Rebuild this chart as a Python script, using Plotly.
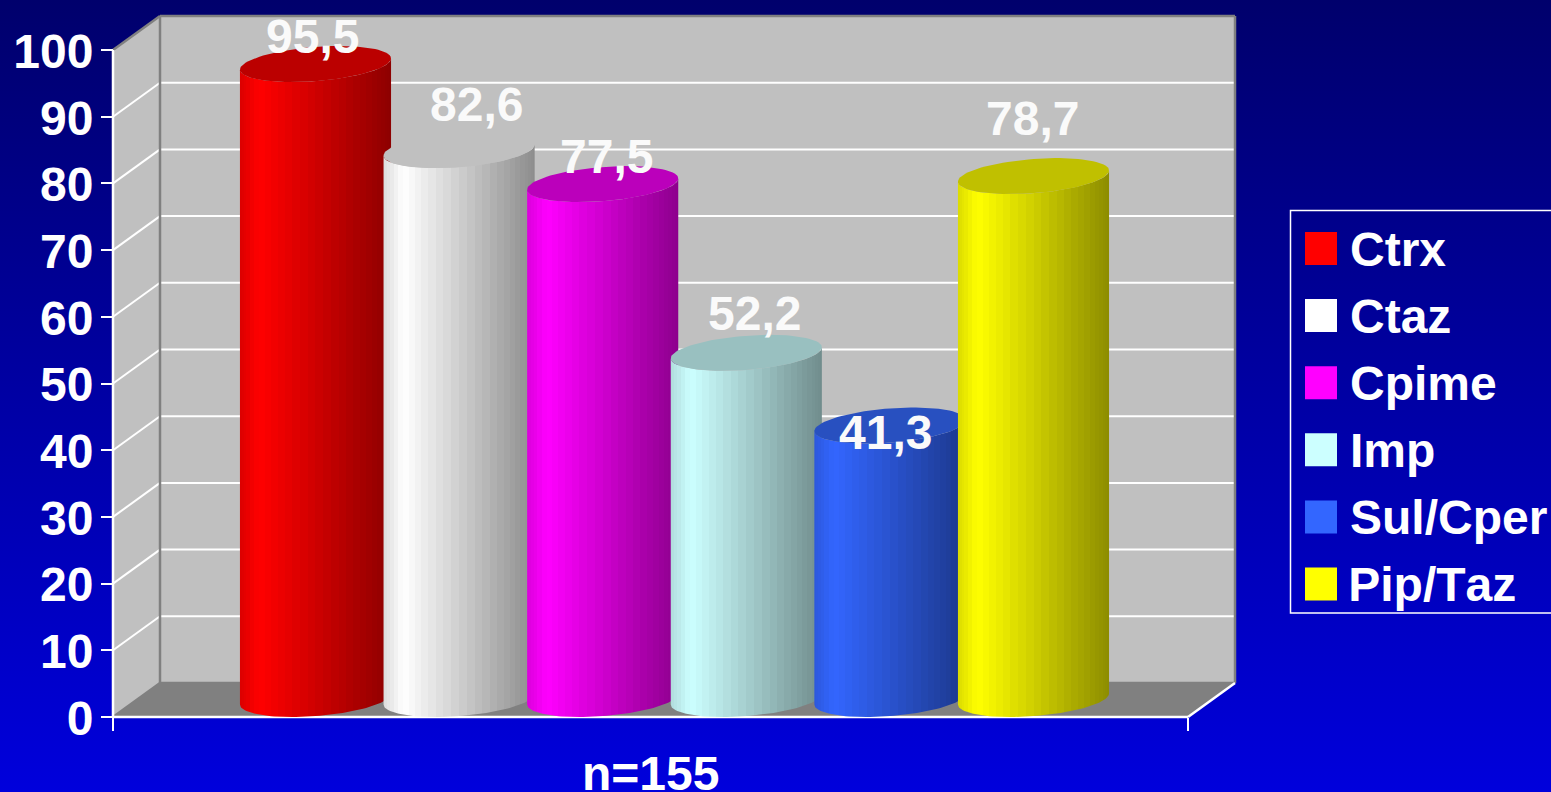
import math
import plotly.graph_objects as go

# ---- data ----
categories = ["Ctrx", "Ctaz", "Cpime", "Imp", "Sul/Cper", "Pip/Taz"]
values = [95.5, 82.6, 77.5, 52.2, 41.3, 78.7]
value_labels = ["95,5", "82,6", "77,5", "52,2", "41,3", "78,7"]
base_colors = [(255, 0, 0), (255, 255, 255), (255, 0, 255), (204, 255, 255), (51, 102, 255), (255, 255, 0)]
top_colors = ["#BB0000", "#C0C0C0", "#BB00BB", "#99C0C0", "#2850C0", "#C0C000"]
y_ticks = list(range(0, 101, 10))
x_title = "n=155"

# ---- layout geometry ----
W, H = 1551, 792
BAND = 143.6                 # px per category
CENTER0 = 315.5              # px of first category centre
Y0, UNIT = 717.0, 6.67       # px of value 0, px per value unit
DX, DY = 47 / BAND, 34 / UNIT  # oblique depth vector in axis units
X_LEFT, X_RIGHT = (113 - CENTER0) / BAND, (1188 - CENTER0) / BAND
Y_TOP = 100
FONT = "Liberation Sans"
SIZE = 48

x_range = [-CENTER0 / BAND, (W - CENTER0) / BAND]
y_range = [(Y0 - H) / UNIT, Y0 / UNIT]

# hand-placed label offsets, px
label_dx = [-3, 17, 4, 8, -4, -1]
label_dy = [44, 62, 44, 55, 9, 74]

fig = go.Figure()


def poly(xs, ys, **kw):
    fig.add_trace(go.Scatter(x=xs, y=ys, mode="lines", fill="toself", hoverinfo="skip",
                             showlegend=False, line=dict(width=0), **kw))


def lines(segs, color, width):
    xs, ys = [], []
    for (a, b), (c, d) in segs:
        xs += [a, c, None]
        ys += [b, d, None]
    fig.add_trace(go.Scatter(x=xs, y=ys, mode="lines", hoverinfo="skip", showlegend=False,
                             line=dict(color=color, width=width)))


# background gradient
poly([x_range[0], x_range[1], x_range[1], x_range[0], x_range[0]],
     [y_range[0], y_range[0], y_range[1], y_range[1], y_range[0]],
     fillgradient=dict(type="vertical", colorscale=[[0, "#0000DC"], [1, "#00006C"]]))

# walls and floor
BX0, BX1 = X_LEFT + DX, X_RIGHT + DX
poly([X_LEFT, X_LEFT, BX0, BX0, X_LEFT], [0, Y_TOP, Y_TOP + DY, DY, 0], fillcolor="#C0C0C0")
poly([BX0, BX0, BX1, BX1, BX0], [DY, Y_TOP + DY, Y_TOP + DY, DY, DY], fillcolor="#C0C0C0")
poly([X_LEFT, X_RIGHT, BX1, BX0, X_LEFT], [0, 0, DY, DY, 0], fillcolor="#808080")

# grid
grid = []
for t in y_ticks[1:-1]:
    grid.append(((X_LEFT, t), (BX0, t + DY)))
    grid.append(((BX0, t + DY), (BX1, t + DY)))
lines(grid, "#FFFFFF", 2)
lines([((BX0, DY), (BX0, Y_TOP + DY)), ((BX0, Y_TOP + DY), (BX1, Y_TOP + DY)),
       ((BX1, Y_TOP + DY), (BX1, DY)), ((BX0, DY), (BX1, DY)),
       ((X_LEFT, Y_TOP), (BX0, Y_TOP + DY)), ((X_LEFT, 0), (BX0, DY))], "#808080", 2.5)
lines([((X_LEFT, 0), (X_LEFT, Y_TOP)), ((X_LEFT, 0), (X_RIGHT, 0)), ((X_RIGHT, 0), (BX1, DY))], "#FFFFFF", 2.5)

# cylinders
CAP_PX = 18.0
A, B_X, B_Y = 0.5, DX / 2, CAP_PX / UNIT
EXT = math.hypot(A, B_X)
T0 = math.atan2(B_X, A)   # angle of the right-most point


def ellipse(cx, cy, t):
    return cx + A * math.cos(t) + B_X * math.sin(t), cy + B_Y * math.sin(t)


def shade(u):
    if u < 0.13:
        return 0.86 + 0.14 * u / 0.13
    return 1 - 0.45 * (u - 0.13) / 0.87


FACETS = 30
for i, (val, base, top) in enumerate(zip(values, base_colors, top_colors)):
    # stepped horizontal gradient: facets narrow toward both silhouette edges
    scale = []
    for k in range(FACETS):
        u0 = 0.5 * (1 - math.cos(math.pi * k / FACETS))
        u1 = 0.5 * (1 - math.cos(math.pi * (k + 1) / FACETS))
        s = shade((u0 + u1) / 2)
        c = "rgb(%d,%d,%d)" % tuple(round(v * s) for v in base)
        scale += [[u0, c], [u1, c]]
    cy0, cy1 = B_Y, val + 16.0 / UNIT
    # lower arc of base (left extreme -> right extreme), then lower arc of top back
    N = 60
    ts = [T0 + math.pi + math.pi * j / N for j in range(N + 1)]
    bottom = [ellipse(i, cy0, t) for t in ts]
    upper = [ellipse(i, cy1, t) for t in reversed(ts)]
    pts = bottom + upper + bottom[:1]
    poly([p[0] for p in pts], [p[1] for p in pts],
         fillgradient=dict(type="horizontal", colorscale=scale, start=i - EXT, stop=i + EXT))
    tt = [2 * math.pi * j / 90 for j in range(91)]
    cap = [ellipse(i, cy1, t) for t in tt]
    poly([p[0] for p in cap], [p[1] for p in cap], fillcolor=top)

annotations = []
for i, (val, lab) in enumerate(zip(values, value_labels)):
    annotations.append(dict(x=i, y=val, xref="x", yref="y", text=lab, showarrow=False,
                            xshift=label_dx[i], yshift=label_dy[i], xanchor="center", yanchor="middle",
                            font=dict(family=FONT, size=SIZE, color="#FAFAFA", weight="bold")))

annotations.append(dict(x=(X_LEFT + X_RIGHT) / 2, xref="x", y=(H - 773) / H, yref="paper", text=x_title,
                        showarrow=False, xanchor="center", yanchor="middle",
                        font=dict(family=FONT, size=SIZE, color="#FFFFFF", weight="bold")))

# legend box
shapes = [dict(type="rect", xref="paper", yref="paper", x0=1290.5 / W, x1=1552 / W,
               y0=1 - 613 / H, y1=1 - 210.5 / H, line=dict(color="#FFFFFF", width=1.5), fillcolor="rgba(0,0,0,0)")]
for i, (name, col) in enumerate(zip(categories, base_colors)):
    yc = 248.5 + 67.1 * i
    shapes.append(dict(type="rect", xref="paper", yref="paper", x0=1305 / W, x1=1337 / W,
                       y0=1 - (yc + 16.5) / H, y1=1 - (yc - 16.5) / H, line=dict(width=0),
                       fillcolor="rgb(%d,%d,%d)" % col))
    annotations.append(dict(x=1348 / W, y=1 - (yc + 0.5) / H, xref="paper", yref="paper", text=name, showarrow=False,
                            xanchor="left", yanchor="middle",
                            font=dict(family=FONT, size=SIZE, color="#FFFFFF", weight="bold")))

fig.update_layout(
    width=W, height=H, margin=dict(l=0, r=0, t=0, b=0, pad=0), autosize=False,
    paper_bgcolor="#0000A0", plot_bgcolor="rgba(0,0,0,0)", showlegend=False,
    shapes=shapes, annotations=annotations,
    xaxis=dict(range=x_range, domain=[0, 1], showgrid=False, zeroline=False, showline=False,
               anchor="free", position=(H - Y0) / H, tickmode="array", tickvals=[X_LEFT, X_RIGHT],
               ticktext=["", ""], ticks="outside", ticklen=13, tickwidth=2, tickcolor="#FFFFFF",
               fixedrange=True),
    yaxis=dict(range=y_range, domain=[0, 1], showgrid=False, zeroline=False, showline=False,
               anchor="free", position=113 / W, side="left", tickmode="array", tickvals=y_ticks,
               ticktext=[str(t) for t in y_ticks], ticks="outside", ticklen=12, tickwidth=2,
               tickcolor="#FFFFFF", tickfont=dict(family=FONT, size=SIZE, color="#FFFFFF", weight="bold"),
               ticklabelstandoff=-2, ticklabelshift=1, fixedrange=True),
)

fig.write_html("out.html", config=dict(displayModeBar=False),
               post_script="document.body.style.margin='0';document.documentElement.style.overflow='hidden';"
                           "var s=document.createElement('style');s.textContent='text{font-kerning:none}';"
                           "document.head.appendChild(s);")
